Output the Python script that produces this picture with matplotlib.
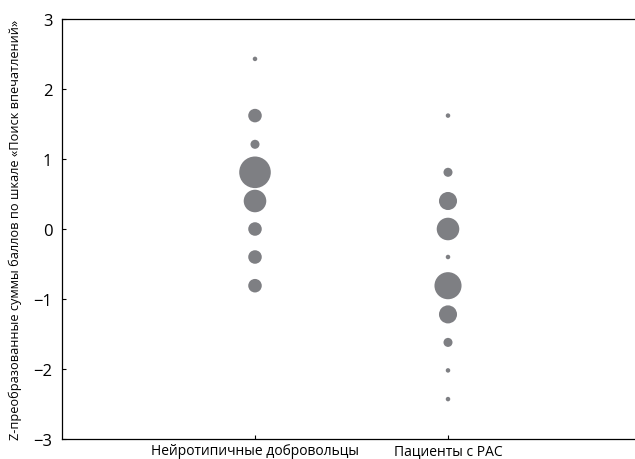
import matplotlib

matplotlib.use("Agg")

import matplotlib.pyplot as plt

GROUPS = ["Нейротипичные добровольцы", "Пациенты с РАС"]

# z-scores and number of subjects at each level
NT_Z = [2.43, 1.62, 1.21, 0.81, 0.40, 0.0, -0.40, -0.81]
NT_N = [1, 3, 2, 7, 5, 3, 3, 3]
ASD_Z = [1.62, 0.81, 0.40, 0.0, -0.40, -0.81, -1.22, -1.62, -2.02, -2.43]
ASD_N = [1, 2, 4, 5, 1, 6, 4, 2, 1, 1]

YLABEL = "Z-преобразованные суммы баллов по шкале «Поиск впечатлений»"
DOT_COLOR = "#7e7f83"
PT_PER_COUNT = 3.25

plt.rcParams["font.family"] = ["Open Sans", "DejaVu Sans"]

fig = plt.figure(figsize=(6.35, 4.6), dpi=100)
ax = fig.add_axes([62 / 635, 20 / 460, 579 / 635, 420 / 460])

for xpos, zs, ns in [(1, NT_Z, NT_N), (2, ASD_Z, ASD_N)]:
    ax.scatter([xpos] * len(zs), zs, s=[(PT_PER_COUNT * n) ** 2 for n in ns],
               color=DOT_COLOR, edgecolors="none", zorder=3)

ax.set_xlim(0, 3)
ax.set_ylim(-3, 3)
ax.set_xticks([1, 2])
ax.set_xticklabels(GROUPS, fontsize=10)
ax.set_yticks(range(-3, 4))
ax.set_yticklabels([str(v).replace("-", "\u2212") for v in range(-3, 4)], fontsize=12)
ax.tick_params(direction="in", length=3, width=0.8, pad=3)
ax.tick_params(axis="y", pad=7)
ax.spines["right"].set_visible(False)
for side in ["left", "bottom", "top"]:
    ax.spines[side].set_linewidth(0.9)
ax.set_ylabel(YLABEL, fontsize=9.2, labelpad=8)

fig.savefig("out.png", dpi=100)
